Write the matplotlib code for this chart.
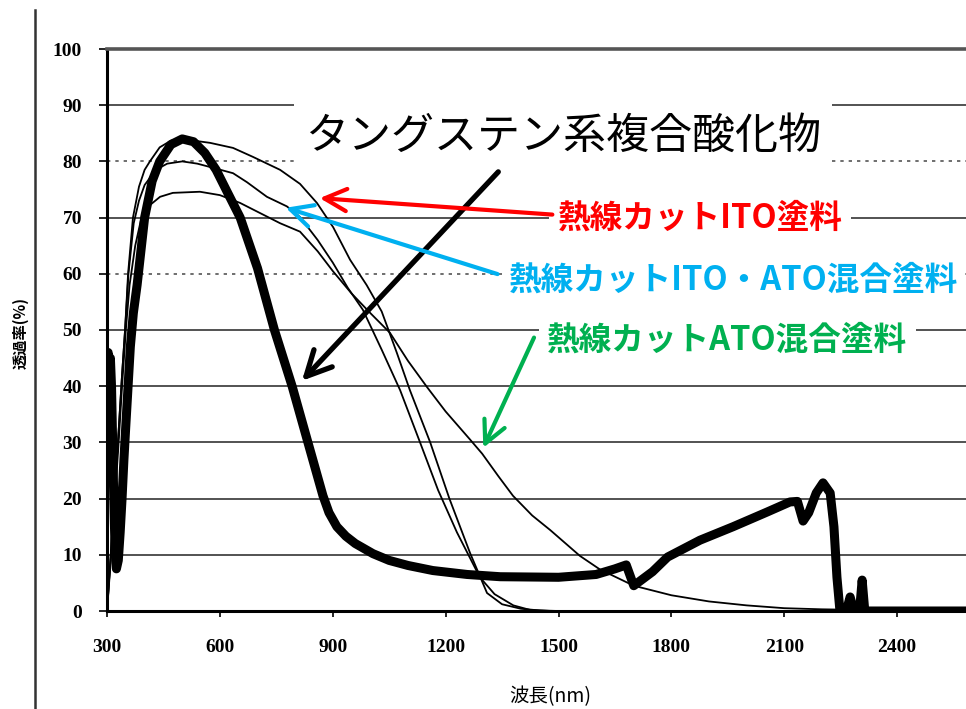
import numpy as np
import matplotlib.pyplot as plt
from matplotlib.lines import Line2D

plt.rcParams['font.family'] = ['Noto Sans CJK JP', 'DejaVu Sans']

# =====================================================
# DATA
# =====================================================

# Tungsten composite oxide (thick curve)
w_nm = [300, 303, 306, 309, 312, 315, 318, 321, 325, 330, 335, 340, 345, 350,
        356, 362, 370, 380, 390, 400, 420, 440, 470, 500, 530, 560, 590, 620,
        654, 700, 745, 792, 834, 874, 890, 911, 935, 960, 1007, 1050, 1100,
        1166, 1257, 1345, 1500, 1600, 1650, 1680, 1700, 1720, 1750, 1790,
        1876, 1964, 2054, 2115, 2135, 2150, 2165, 2185, 2203, 2222, 2232,
        2240, 2248, 2265, 2275, 2285, 2300, 2307, 2314, 2583]
w_val = [44, 46, 42, 45, 40, 30, 20, 12, 7.5, 9, 14, 20, 27, 33,
         40, 47, 53, 58, 64, 70, 76.5, 80, 83, 84, 83.5, 81.5, 78.5, 74.5,
         70, 61, 50, 40, 30, 20.5, 17.5, 15, 13.3, 12, 10.2, 9, 8.1,
         7.2, 6.5, 6.1, 6, 6.5, 7.5, 8.2, 4.5, 5.5, 7, 9.6,
         12.6, 15, 17.6, 19.4, 19.5, 16, 17.5, 21, 22.8, 21, 15,
         6, 0, 0, 2.5, 0, 0, 5.5, 0, 0]

# heat-cut ITO paint
ito_nm = [300, 310, 320, 330, 340, 348, 356, 369, 385, 400, 414, 440, 470,
          494, 530, 574, 635, 688, 760, 813, 858, 901, 946, 990, 1030, 1070,
          1105, 1159, 1210, 1265, 1310, 1350, 1400, 1450, 1500, 2583]
ito_val = [0, 10, 21, 31, 42, 50, 60, 70, 75.5, 78.5, 80, 82.5, 83.7,
           84, 83.7, 83.3, 82.4, 80.8, 78.5, 76, 72.6, 68.3, 62.5, 58, 53.3, 46,
           39.3, 30, 20, 10.3, 3.2, 1.2, 0.4, 0.1, 0, 0]

# heat-cut ITO/ATO mixed paint
mix_nm = [300, 310, 320, 330, 340, 348, 357, 371, 385, 400, 430, 460, 500,
          540, 574, 635, 672, 725, 778, 813, 860, 900, 940, 980, 1030, 1079,
          1132, 1180, 1230, 1291, 1330, 1380, 1424, 1480, 2583]
mix_val = [0, 10, 21, 31, 42, 50, 60, 69, 73, 75.8, 78.5, 79.6, 80,
           79.6, 79, 77.9, 76.3, 73.7, 72, 70.1, 66, 62, 57.5, 53.6, 46.5, 39.3,
           30, 21.5, 14, 6, 3, 1, 0.2, 0, 0]

# heat-cut ATO mixed paint
ato_nm = [300, 310, 320, 330, 340, 350, 360, 375, 390, 410, 441, 475, 547,
          600, 654, 707, 760, 813, 860, 900, 950, 1000, 1052, 1100, 1151,
          1200, 1265, 1297, 1340, 1379, 1430, 1478, 1557, 1610, 1700, 1800,
          1900, 2000, 2100, 2200, 2300, 2400, 2583]
ato_val = [0, 9, 19, 29, 40, 50, 58, 65, 69.5, 72, 73.7, 74.4, 74.6,
           74, 72.6, 70.8, 69, 67.5, 64, 60.5, 56.5, 53, 49.5, 44.5, 39.8,
           35.5, 30.5, 28, 24, 20.5, 17, 14.4, 9.8, 7.4, 4.5, 2.8,
           1.7, 1, 0.5, 0.3, 0.2, 0.1, 0.05]

x_ticks = [300, 600, 900, 1200, 1500, 1800, 2100, 2400]
y_ticks = list(range(0, 101, 10))
grid_levels = [10, 20, 30, 40, 50, 60, 70, 80, 90]

# =====================================================
# FIGURE
# =====================================================

W, H = 966, 709
fig = plt.figure(figsize=(W / 100, H / 100), dpi=100)
ax = fig.add_axes([107 / W, 98 / H, 1 - 107 / W, 562 / H])

ax.set_xlim(300, 2583)
ax.set_ylim(0, 100)

# horizontal grid (scanned, some lines faint)
for g in grid_levels:
    if g in (60, 80):
        ax.axhline(g, color='#555555', lw=1.2, ls=(0, (2, 3)), zorder=1)
    else:
        ax.axhline(g, color='#444444', lw=1.3, zorder=1)

ax.plot(ato_nm, ato_val, color='black', lw=1.3, zorder=3)
ax.plot(mix_nm, mix_val, color='black', lw=1.3, zorder=3)
ax.plot(ito_nm, ito_val, color='black', lw=1.3, zorder=3)
ax.plot(w_nm, w_val, color='black', lw=6.5, solid_joinstyle='round',
        solid_capstyle='round', zorder=4)

# axes styling
ax.spines['right'].set_visible(False)
ax.spines['left'].set_linewidth(2.2)
ax.spines['bottom'].set_linewidth(2.2)
ax.spines['top'].set_linewidth(2.6)
ax.spines['top'].set_color('#555555')

ax.set_xticks(x_ticks)
ax.set_xticklabels([str(t) for t in x_ticks])
ax.set_yticks(y_ticks)
ax.set_yticklabels([str(t) for t in y_ticks])
ax.tick_params(axis='y', length=6, width=1.2, pad=12)
ax.tick_params(axis='x', length=4, width=1.2, pad=16)
for lab in ax.get_xticklabels() + ax.get_yticklabels():
    lab.set_fontfamily('Liberation Serif')
    lab.set_fontweight('bold')
    lab.set_fontsize(14)

# =====================================================
# ANNOTATIONS
# =====================================================

ax.text(1512, 84.4, 'タングステン系複合酸化物', fontsize=31, color='black',
        ha='center', va='center', zorder=6,
        bbox=dict(facecolor='white', edgecolor='none', pad=8))
ax.text(1876, 69.9, '熱線カットITO塗料', fontsize=23.5, color='#FF0000',
        fontweight='bold', ha='center', va='center', zorder=6,
        bbox=dict(facecolor='white', edgecolor='none', pad=6))
ax.text(1964, 58.9, '熱線カットITO・ATO混合塗料', fontsize=23.5, color='#00B0F0',
        fontweight='bold', ha='center', va='center', zorder=6,
        bbox=dict(facecolor='white', edgecolor='none', pad=4))
ax.text(1948, 48.2, '熱線カットATO混合塗料', fontsize=23.5, color='#00B050',
        fontweight='bold', ha='center', va='center', zorder=6,
        bbox=dict(facecolor='white', edgecolor='none', pad=6))

ax.annotate('', xy=(813, 40.6), xytext=(1345, 78.5),
            arrowprops=dict(arrowstyle='->,head_length=0.9,head_width=0.45',
                            color='black', lw=3.8, mutation_scale=20),
            zorder=7)
ax.annotate('', xy=(858, 73.5), xytext=(1491, 70.5),
            arrowprops=dict(arrowstyle='->,head_length=0.8,head_width=0.4',
                            color='#FF0000', lw=3.0, mutation_scale=20),
            zorder=7)
ax.annotate('', xy=(768, 71.9), xytext=(1345, 59.8),
            arrowprops=dict(arrowstyle='->,head_length=0.8,head_width=0.4',
                            color='#00B0F0', lw=3.0, mutation_scale=20),
            zorder=7)
ax.annotate('', xy=(1297, 28.6), xytext=(1438, 49.1),
            arrowprops=dict(arrowstyle='->,head_length=0.8,head_width=0.4',
                            color='#00B050', lw=3.0, mutation_scale=20),
            zorder=7)

# axis titles
fig.text(21 / W, 1 - 333 / H, '透過率(%)', rotation=90, fontsize=11,
         fontweight='bold', ha='center', va='center')
fig.text(550 / W, 1 - 697 / H, '波長(nm)', fontsize=14, ha='center', va='center')

# outer frame line at the left
fig.add_artist(Line2D([35 / W, 35 / W], [0, 1 - 10 / H], color='#333333', lw=1.8))

fig.savefig('out.png', dpi=100)
